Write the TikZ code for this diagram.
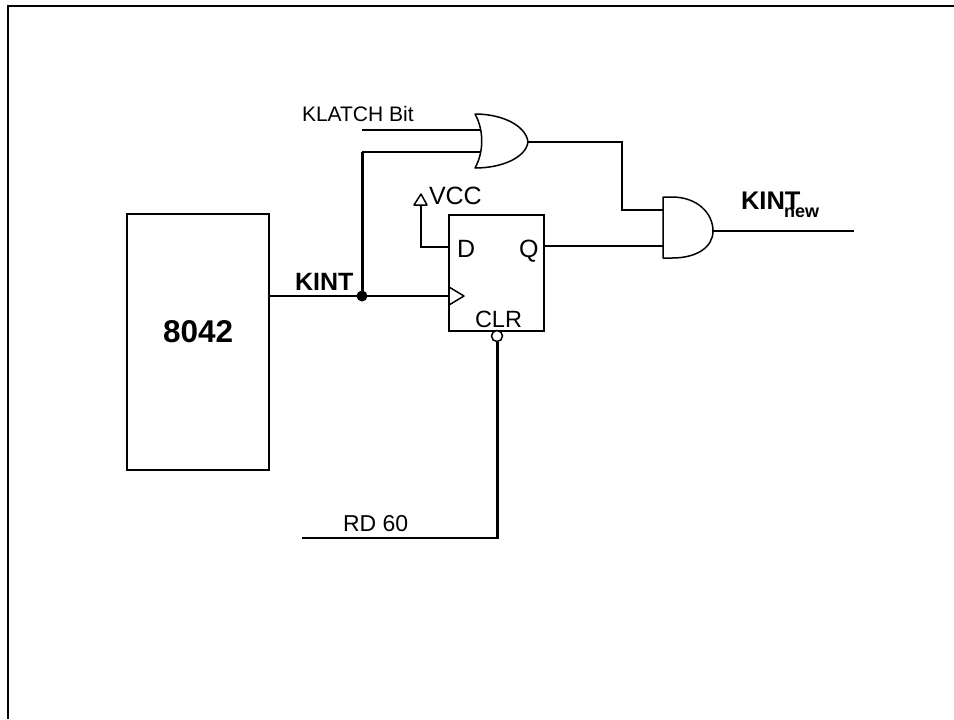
\documentclass[tikz,border=0pt]{standalone}
\usepackage{fontspec}
\setmainfont{Liberation Sans}
\newcommand{\pxs}[1]{\fontsize{\fpeval{#1*0.75}pt}{\fpeval{#1*0.9}pt}\selectfont}
\begin{document}
\begin{tikzpicture}[x=0.75pt,y=-0.75pt,
  thinwire/.style={draw=black,line width=1.5pt*0.75,line join=miter},
  wire/.style={draw=black,line width=2pt*0.75,line join=miter},
  buswire/.style={draw=black,line width=3pt*0.75,line join=miter},
  frameline/.style={draw=black,line width=2.2pt*0.75},
  shapeline/.style={draw=black,fill=white,line width=1.5pt*0.75,line join=round},
  lbl/.style={anchor=base west,inner sep=0pt,outer sep=0pt,text=black},
  blockbox/.style={draw=black,fill=white,line width=1.5pt*0.75,inner sep=0pt,outer sep=0pt,anchor=north west}]
\useasboundingbox (0,0) rectangle (954,719);
% outer frame
\coordinate (frameBL) at (8,719);
\coordinate (frameTL) at (8,6);
\coordinate (frameTR) at (954,6);
\draw[frameline] (frameBL) -- (frameTL) -- (frameTR);
% named connection points
\coordinate (klatchIn) at (362,130);
\coordinate (orA) at (482,130);
\coordinate (orB) at (482,152);
\coordinate (orBend) at (362,152);
\coordinate (orOut) at (528,142);
\coordinate (bendA) at (622,142);
\coordinate (bendB) at (622,210);
\coordinate (andA) at (663,210);
\coordinate (andB) at (663,246);
\coordinate (andOut) at (713,231);
\coordinate (kintNewEnd) at (854,231);
\coordinate (vccFoot) at (421,204);
\coordinate (dBend) at (421,247);
\coordinate (clrBend) at (497,538);
\coordinate (rdEnd) at (302,538);
% blocks
\node[blockbox,minimum width=142*0.75pt,minimum height=256*0.75pt] (chip) at (127,214) {};
\node[blockbox,minimum width=95*0.75pt,minimum height=116*0.75pt] (ff) at (449,215) {};
\coordinate (chipOut) at (chip.east |- 0,296);
\coordinate (ffClk) at (ff.west |- 0,296);
\coordinate (ffD) at (ff.west |- 0,247);
\coordinate (ffQ) at (ff.east |- 0,246);
\coordinate (kintDot) at (362,296);
% wires
\draw[thinwire] (klatchIn) -- (orA);
\draw[thinwire] (orBend) -- (orB);
\draw[buswire] (orBend) -- (kintDot);
\draw[wire] (chipOut) -- (ffClk);
\fill[black] (kintDot) circle (5.5);
\draw[wire] (orOut) -- (bendA) -- (bendB) -- (andA);
\draw[wire] (ffQ) -- (andB);
\draw[wire] (andOut) -- (kintNewEnd);
\draw[thinwire] (ffD) -- (dBend) -- (vccFoot);
% OR gate
\draw[shapeline] (475,114) .. controls (503,114) and (526,126) .. (orOut)
  .. controls (526,157) and (503,168) .. (475,168)
  .. controls (484,152) and (484,130) .. cycle;
% AND gate
\draw[shapeline] (663,197) -- (672,197) .. controls (697,197) and (713,213) .. (andOut)
  .. controls (713,247) and (697,258) .. (672,258) -- (663,258) -- cycle;
% clock triangle, VCC triangle
\draw[shapeline] (449,287) -- (464,296) -- (449,305) -- cycle;
\draw[shapeline] (421,194) -- (427,205) -- (414,205) -- cycle;
% CLR bubble and line
\node[circle,draw=black,fill=white,line width=1.5pt*0.75,minimum size=11*0.75pt,inner sep=0pt,outer sep=0pt] (bubble) at (497,336) {};
\draw[buswire] (bubble.south) -- (497,538.7);
\draw[wire] (clrBend) -- (rdEnd);
% labels
\node[lbl,font=\pxs{21}] (tKlatch) at (302,121) {KLATCH Bit};
\node[lbl,font=\pxs{25}] (tVcc) at (429,204) {VCC};
\node[lbl,font=\pxs{25}] (tD) at (457,257) {D};
\node[lbl,font=\pxs{25}] (tQ) at (519,257) {Q};
\node[lbl,font=\pxs{23.5}] (tClr) at (475,327) {CLR};
\node[lbl,font=\pxs{23}] (tRd) at (343,531) {RD 60};
\node[lbl,font=\pxs{25}\bfseries] (tKint) at (295,290) {KINT};
\node[lbl,font=\pxs{31.5}\bfseries] (t8042) at (163,342) {8042};
\node[lbl,font=\pxs{25.5}\bfseries] (tKintNew) at (741,209) {KINT};
\node[lbl,font=\pxs{18}\bfseries] (tNew) at (784,217) {new};
\end{tikzpicture}
\end{document}
